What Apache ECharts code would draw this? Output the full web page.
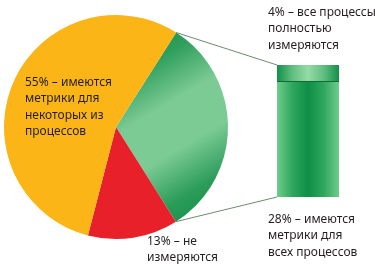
<!DOCTYPE html>
<html><head><meta charset="utf-8">
<script src="https://cdn.jsdelivr.net/npm/echarts@6/dist/echarts.min.js"></script>
<style>html,body{margin:0;padding:0;background:#fff}#c{width:375px;height:275px}</style>
</head><body><div id="c"></div>
<script>
// ---- data ----
const pieNames = ['Метрики для всех или полностью', 'Не измеряются', 'Метрики для некоторых'];
const pieValues = [32, 13, 55];
const barNames = ['28% – имеются метрики для всех процессов', '4% – все процессы полностью измеряются'];
const barValues = [28, 4];
const labelYellow = ['55% – имеются', 'метрики для', 'некоторых из', 'процессов'];
const labelRed = ['13% – не', 'измеряются'];
const labelTop = ['4% – все процессы', 'полностью', 'измеряются'];
const labelBottom = ['28% – имеются', 'метрики для', 'всех процессов'];

// ---- layout / style ----
const CX = 116, CY = 127, R = 112, START = 57.5;
const G = {left: 277, top: 65, width: 62, height: 132};
const FONT = {fontFamily: 'Noto Sans', fontSize: 12, fill: '#231f20', lineHeight: 16.5};

const chart = echarts.init(document.getElementById('c'), null, {renderer: 'canvas'});
const lg = (x2, y2, stops) => new echarts.graphic.LinearGradient(0, 0, x2, y2, stops.map((c, i) => ({offset: i / (stops.length - 1), color: c})));
const pieColors = [
  lg(1, 1, ['#0c8a44', '#2f9f5c', '#7cca94', '#7ccb95', '#2c9c59', '#0c8a44']),
  '#e8202a',
  '#fbb516'
];
const barColors = [
  lg(1, 0, ['#6fcc8c', '#2ea75d', '#0e8e46', '#2ea75d', '#6fcc8c']),
  lg(1, 0, ['#12904a', '#62be80', '#95dba6', '#62be80', '#12904a'])
];

function txt(x, y, lines) {
  return {type: 'text', left: x, top: y, z: 100, style: Object.assign({text: lines.join('\n')}, FONT), silent: true};
}

chart.setOption({
  animation: false,
  grid: {left: G.left, top: G.top, width: G.width, height: G.height},
  xAxis: {type: 'category', data: ['x'], show: false},
  yAxis: {type: 'value', min: 0, max: barValues.reduce((a, b) => a + b, 0), show: false},
  series: [
    {
      type: 'pie', center: [CX, CY], radius: R, startAngle: START, clockwise: true,
      label: {show: false}, labelLine: {show: false}, silent: true,
      data: pieNames.map((n, i) => ({name: n, value: pieValues[i], itemStyle: {color: pieColors[i]}}))
    },
    ...barNames.map((n, i) => ({
      type: 'bar', name: n, stack: 's', barWidth: '100%',
      data: [barValues[i]], itemStyle: {color: barColors[i]}, silent: true
    }))
  ]
});

// connector lines from green slice edges to bar corners
const total = pieValues.reduce((a, b) => a + b, 0);
const a1 = START * Math.PI / 180;
const a2 = (START - pieValues[0] / total * 360) * Math.PI / 180;
const p1 = [CX + R * Math.cos(a1), CY - R * Math.sin(a1)];
const p2 = [CX + R * Math.cos(a2), CY - R * Math.sin(a2)];
const barTopY = chart.convertToPixel({gridIndex: 0}, [0, barValues[0] + barValues[1]])[1];
const barSplitY = chart.convertToPixel({gridIndex: 0}, [0, barValues[0]])[1];
const barBotY = chart.convertToPixel({gridIndex: 0}, [0, 0])[1];
const lineStyle = {stroke: '#6e8a70', lineWidth: 1};
chart.setOption({
  graphic: [
    {type: 'line', shape: {x1: p1[0], y1: p1[1], x2: G.left, y2: barTopY}, style: lineStyle, silent: true, z: 10},
    {type: 'line', shape: {x1: p2[0], y1: p2[1], x2: G.left, y2: barBotY}, style: lineStyle, silent: true, z: 10},
    {type: 'line', shape: {x1: G.left, y1: barSplitY, x2: G.left + G.width, y2: barSplitY}, style: {stroke: '#0d6b36', lineWidth: 1}, silent: true, z: 10},
    txt(25, 74, labelYellow),
    txt(147, 233, labelRed),
    txt(268, 4, labelTop),
    txt(268, 211, labelBottom)
  ]
});
</script></body></html>
